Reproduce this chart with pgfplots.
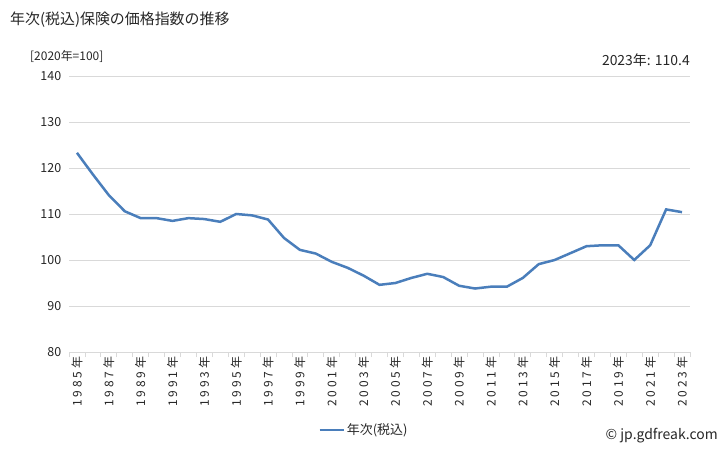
\documentclass[border=0pt]{standalone}
\usepackage{pgfplots}
\pgfplotsset{compat=1.18}
\usepackage{fontspec}
\setmainfont{Noto Sans CJK JP}
\newfontfamily\tickfont[LetterSpace=25]{Noto Sans CJK JP}
\definecolor{lineblue}{HTML}{4A7EBB}
\definecolor{gridgray}{HTML}{D9D9D9}
\definecolor{txt}{HTML}{262626}
\begin{document}
\begin{tikzpicture}
\path[use as bounding box] (0bp,0bp) rectangle (728bp,450bp);
\node[anchor=west, text=txt, font=\fontsize{15}{18}\selectfont, inner sep=0pt] at (10bp,430bp) {年次(税込)保険の価格指数の推移};
\node[anchor=west, text=txt, font=\fontsize{12}{14}\selectfont, inner sep=0pt] at (30bp,394bp) {[2020年=100]};
\node[anchor=east, text=txt, font=\fontsize{14}{16}\selectfont, inner sep=0pt] at (690bp,390bp) {2023年: 110.4};
\node[anchor=east, text=txt, font=\fontsize{14}{16}\selectfont, inner sep=0pt] at (718bp,14bp) {© jp.gdfreak.com};
\begin{axis}[
  at={(69bp,98bp)}, anchor=south west,
  scale only axis, width=621bp, height=276bp,
  xmin=1984.5, xmax=2023.5, ymin=80, ymax=140,
  ytick={80,90,...,140},
  xtick={1985,1987,...,2023},
  minor xtick={1984.5,1985.5,...,2023.5},
  xticklabel={\pgfmathprintnumber[1000 sep={}]{\tick}年},
  xticklabel style={rotate=90, anchor=east, font=\tickfont\fontsize{12}{14}\selectfont, text=txt, inner xsep=0bp},
  yticklabel style={font=\fontsize{12.5}{14}\selectfont, text=txt},
  /pgf/number format/assume math mode=true,
  ymajorgrids, major grid style={draw=gridgray, line width=0.8bp},
  axis x line*=bottom, axis y line*=left,
  x axis line style={draw=gridgray, line width=0.8bp, -},
  y axis line style={draw=none},
  ytick style={draw=none},
  major x tick style={draw=none},
  minor x tick style={draw=gridgray, line width=0.8bp},
  minor tick length=5bp,
  tick align=outside,
  xtick pos=bottom, ytick pos=left,
  legend style={at={(0.475,-0.283)}, anchor=center, draw=none, fill=none,
    font=\fontsize{13}{15}\selectfont, text=txt},
  legend cell align=left,
  legend image code/.code={\draw[#1, line width=2.5bp] (0bp,0bp) -- (24bp,0bp);},
]
\addplot[color=lineblue, line width=2.5bp, mark=none] table {
x y
1985 123.3
1986 118.6
1987 114.1
1988 110.6
1989 109.1
1990 109.1
1991 108.5
1992 109.1
1993 108.9
1994 108.3
1995 110.0
1996 109.7
1997 108.8
1998 104.8
1999 102.2
2000 101.4
2001 99.6
2002 98.3
2003 96.6
2004 94.6
2005 95.0
2006 96.1
2007 97.0
2008 96.3
2009 94.4
2010 93.8
2011 94.2
2012 94.2
2013 96.1
2014 99.1
2015 100.0
2016 101.5
2017 103.0
2018 103.2
2019 103.2
2020 100.0
2021 103.2
2022 111.0
2023 110.4
};
\addlegendentry{年次(税込)}
\end{axis}
\end{tikzpicture}
\end{document}
